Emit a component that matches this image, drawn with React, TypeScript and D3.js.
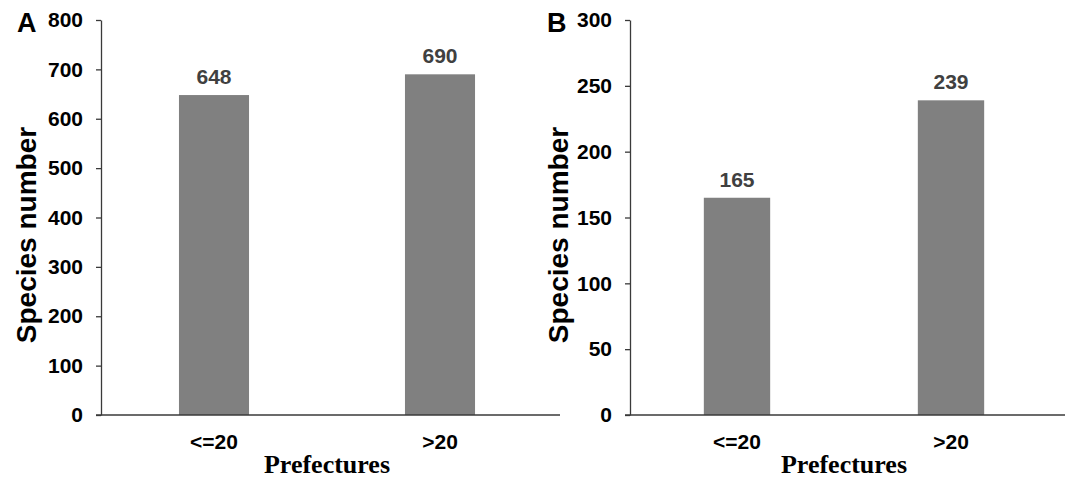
import React, { useEffect, useRef } from 'react'
import * as d3 from 'd3'

const categories = ['<=20', '>20']
const speciesA = [648, 690]
const speciesB = [165, 239]
const ticksA = [0, 100, 200, 300, 400, 500, 600, 700, 800]
const ticksB = [0, 50, 100, 150, 200, 250, 300]

const SANS = '"Liberation Sans", Arial, sans-serif'
const SERIF = '"Liberation Serif", "Times New Roman", serif'
const AXIS = '#3a3a3a'

interface PanelProps {
    letter: string
    values: number[]
    ticks: number[]
    left: number // x of y-axis
    right: number // end of band range
    lineEnd: number // end of drawn x-axis line
    letterX: number
    titleX: number
}

const TOP = 20
const BOTTOM = 415

const Panel: React.FC<PanelProps> = ({ letter, values, ticks, left, right, lineEnd, letterX, titleX }) => {
    const gRef = useRef<SVGGElement | null>(null)

    const x = d3.scaleBand().domain(categories).range([left, right]).paddingInner(0.69).paddingOuter(0.345)
    const y = d3
        .scaleLinear()
        .domain([0, d3.max(ticks) as number])
        .range([BOTTOM, TOP])

    useEffect(() => {
        const g = d3.select(gRef.current)
        g.selectAll('*').remove()

        // y axis
        const ya = g
            .append('g')
            .attr('transform', `translate(${left}, 0)`)
            .call(d3.axisLeft(y).tickValues(ticks).tickSize(5).tickSizeOuter(0).tickPadding(13))
        ya.select('.domain').attr('stroke', AXIS).attr('stroke-width', 1.3)
        ya.selectAll('.tick line').attr('stroke', AXIS).attr('stroke-width', 1.3)
        ya.selectAll('.tick text')
            .attr('fill', '#000')
            .style('font-family', SANS)
            .style('font-weight', 'bold')
            .style('font-size', '21px')

        // bars
        g.selectAll('rect.bar')
            .data(values)
            .join('rect')
            .attr('class', 'bar')
            .attr('x', (d, i) => x(categories[i]) as number)
            .attr('y', (d) => y(d))
            .attr('width', x.bandwidth())
            .attr('height', (d) => BOTTOM - y(d))
            .attr('fill', '#808080')

        // value labels
        g.selectAll('text.val')
            .data(values)
            .join('text')
            .attr('class', 'val')
            .attr('x', (d, i) => (x(categories[i]) as number) + x.bandwidth() / 2)
            .attr('y', (d) => y(d) - 11)
            .attr('text-anchor', 'middle')
            .attr('fill', '#404040')
            .style('font-family', SANS)
            .style('font-weight', 'bold')
            .style('font-size', '21px')
            .text((d) => String(d))

        // x axis line
        g.append('line')
            .attr('x1', left - 5)
            .attr('x2', lineEnd)
            .attr('y1', BOTTOM)
            .attr('y2', BOTTOM)
            .attr('stroke', AXIS)
            .attr('stroke-width', 1.3)

        // category labels
        g.selectAll('text.cat')
            .data(categories)
            .join('text')
            .attr('class', 'cat')
            .attr('x', (d) => (x(d) as number) + x.bandwidth() / 2)
            .attr('y', 449)
            .attr('text-anchor', 'middle')
            .attr('fill', '#000')
            .style('font-family', SANS)
            .style('font-weight', 'bold')
            .style('font-size', '21px')
            .text((d) => d)

        // x title
        g.append('text')
            .attr('x', (left + right) / 2)
            .attr('y', 473)
            .attr('text-anchor', 'middle')
            .style('font-family', SERIF)
            .style('font-weight', 'bold')
            .style('font-size', '26px')
            .text('Prefectures')

        // y title
        g.append('text')
            .attr('transform', `translate(${titleX}, 235) rotate(-90)`)
            .attr('text-anchor', 'middle')
            .attr('dominant-baseline', 'central')
            .style('font-family', SANS)
            .style('font-weight', 'bold')
            .style('font-size', '28px')
            .text('Species number')

        // panel letter
        g.append('text')
            .attr('x', letterX)
            .attr('y', 32)
            .style('font-family', SANS)
            .style('font-weight', 'bold')
            .style('font-size', '27px')
            .text(letter)
    }, [values, ticks, left, right])

    return <g ref={gRef} />
}

export default function App() {
    return (
        <svg width={1065} height={481} style={{ position: 'absolute', left: 0, top: 0, background: '#fff' }}>
            <rect width={1065} height={481} fill="#fff" />
            <Panel letter="A" values={speciesA} ticks={ticksA} left={101} right={553} lineEnd={560} letterX={17} titleX={26} />
            <Panel letter="B" values={speciesB} ticks={ticksB} left={630} right={1058} lineEnd={1065} letterX={547} titleX={558} />
        </svg>
    )
}
